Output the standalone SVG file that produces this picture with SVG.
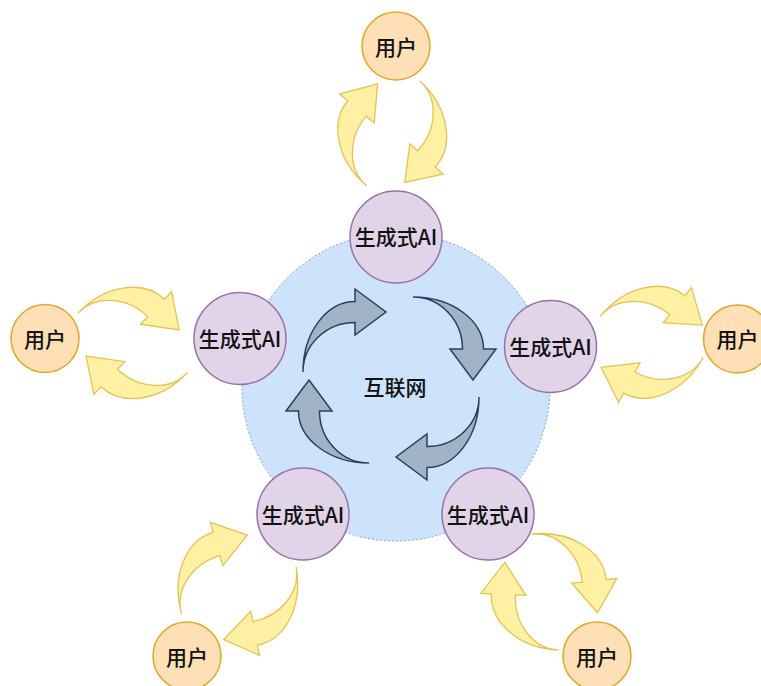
<svg xmlns="http://www.w3.org/2000/svg" xmlns:xlink="http://www.w3.org/1999/xlink" width="761" height="686" viewBox="0 0 761 686">
<style>
.net{fill:#cce3fb;stroke:#7a9cc8;stroke-width:1;stroke-dasharray:2 2}
.ai{fill:#e1d3e8;stroke:#9673a6;stroke-width:1.5}
.user{fill:#fedfb6;stroke:#e0a628;stroke-width:1.5}
.ya{fill:#fff1a3;stroke:#e3c257;stroke-width:1.3}
.ca{fill:#a0b4c6;stroke:#23445d;stroke-width:1.5}
text{font-family:"Noto Sans CJK SC","Noto Sans",sans-serif;font-size:21px;font-weight:500;fill:#111;text-anchor:middle;dominant-baseline:central}
</style>
<defs>
<path id="yarrow" d="M53,0 L85,22.5 L53,45 L53,34.5 A53 45.5 0 0 0 0,80 A53 69.5 0 0 1 53,10.5 Z"/>
<path id="carrow" d="M52,0 L83,23 L52,46 L52,33.5 A52 49.5 0 0 0 0,83 A52 70.5 0 0 1 52,12.5 Z"/>
</defs>
<rect width="761" height="686" fill="#ffffff"/>
<g id="internet">
<circle class="net" cx="396" cy="387" r="154"/>
<text x="395" y="386">互联网</text>
</g>
<g id="connectors">
<use xlink:href="#carrow" class="ca" transform="translate(303,372) rotate(0) translate(0,-83)"/>
<use xlink:href="#carrow" class="ca" transform="translate(413,297) rotate(90) translate(0,-83)"/>
<use xlink:href="#carrow" class="ca" transform="translate(479,397) rotate(180) translate(0,-83)"/>
<use xlink:href="#carrow" class="ca" transform="translate(369,463) rotate(-90) translate(0,-83)"/>
<use xlink:href="#yarrow" class="ya" transform="translate(367,186) rotate(-50) translate(0,-80)"/>
<use xlink:href="#yarrow" class="ya" transform="translate(420,81) rotate(132.6) translate(0,-80)"/>
<use xlink:href="#yarrow" class="ya" transform="translate(78,313) rotate(43.6) translate(0,-80)"/>
<use xlink:href="#yarrow" class="ya" transform="translate(187.3,372.7) rotate(-136.6) translate(0,-80)"/>
<use xlink:href="#yarrow" class="ya" transform="translate(600,316.7) rotate(38.8) translate(0,-80)"/>
<use xlink:href="#yarrow" class="ya" transform="translate(703.3,357.3) rotate(208.5) translate(0,-80)"/>
<use xlink:href="#yarrow" class="ya" transform="translate(181.7,614) rotate(-16.2) translate(0,-80)"/>
<use xlink:href="#yarrow" class="ya" transform="translate(296,566.7) rotate(168.9) translate(0,-80)"/>
<use xlink:href="#yarrow" class="ya" transform="translate(531.7,534) rotate(84.2) translate(0,-80)"/>
<use xlink:href="#yarrow" class="ya" transform="translate(558.3,650) rotate(-87.3) translate(0,-80)"/>
</g>
<g id="ai-top"><circle class="ai" cx="396" cy="237" r="46"/><text x="396" y="236">生成式AI</text></g>
<g id="ai-left"><circle class="ai" cx="240" cy="338.5" r="46"/><text x="240" y="338">生成式AI</text></g>
<g id="ai-right"><circle class="ai" cx="550.5" cy="346.5" r="46"/><text x="550.5" y="346">生成式AI</text></g>
<g id="ai-bottom-left"><circle class="ai" cx="303" cy="514" r="46"/><text x="303" y="514">生成式AI</text></g>
<g id="ai-bottom-right"><circle class="ai" cx="488" cy="514" r="46"/><text x="488" y="514">生成式AI</text></g>
<g id="user-top"><circle class="user" cx="396" cy="46" r="34"/><text x="396" y="46">用户</text></g>
<g id="user-left"><circle class="user" cx="45" cy="338.5" r="34"/><text x="45" y="338">用户</text></g>
<g id="user-right"><circle class="user" cx="737.5" cy="339" r="34"/><text x="737.5" y="338">用户</text></g>
<g id="user-bottom-left"><circle class="user" cx="187" cy="656" r="34"/><text x="187" y="656">用户</text></g>
<g id="user-bottom-right"><circle class="user" cx="597" cy="656" r="34"/><text x="597" y="656">用户</text></g>
</svg>
